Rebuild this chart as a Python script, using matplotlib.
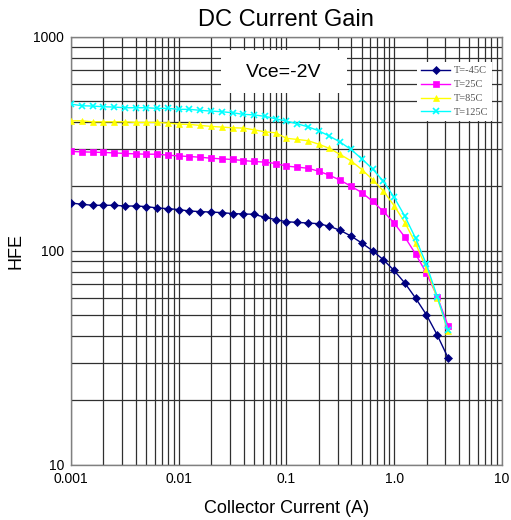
import numpy as np
import matplotlib
matplotlib.use("Agg")
import matplotlib.pyplot as plt
from matplotlib.patches import Rectangle

plt.rcParams['font.family'] = ['Liberation Sans', 'DejaVu Sans']

# collector current, 10 points per decade from 1 mA to ~3.16 A
ic = 10.0 ** (-3 + 0.1 * np.arange(36))

hfe_m45 = [167.5, 165.1, 163.4, 163.4, 163.4, 162.1, 162.1, 161.1, 158.7, 157.6,
           156.0, 153.6, 152.6, 151.9, 151.0, 149.4, 148.8, 148.3, 143.5, 140.0,
           136.9, 135.9, 135.0, 134.0, 130.3, 124.7, 117.3, 108.8, 100.2, 90.9,
           81.0, 70.7, 60.1, 50.3, 40.5, 31.7]
hfe_25 = [291.5, 290.3, 289.4, 288.4, 287.2, 285.3, 284.1, 283.1, 283.1, 280.1,
          277.9, 276.1, 274.0, 271.1, 269.2, 267.4, 264.5, 261.7, 260.0, 256.1,
          249.0, 246.4, 243.3, 235.7, 225.7, 213.9, 200.5, 187.3, 170.6, 153.1,
          134.9, 116.0, 96.6, 78.7, 61.2, 44.8]
hfe_85 = [405.5, 405.5, 401.2, 401.2, 401.2, 401.2, 398.6, 398.6, 398.6, 395.6,
          391.3, 390.1, 385.9, 381.8, 379.0, 376.2, 375.0, 368.1, 360.2, 356.4,
          336.0, 331.8, 327.3, 315.4, 301.1, 282.2, 263.4, 240.1, 215.6, 190.6,
          162.8, 135.6, 108.4, 82.5, 60.4, 42.4]
hfe_125 = [485.6, 476.8, 475.2, 471.7, 470.1, 466.7, 466.7, 466.7, 463.5, 463.5,
           458.7, 458.7, 453.8, 450.3, 447.0, 442.2, 434.6, 432.0, 425.4, 414.5,
           404.2, 392.6, 380.2, 364.1, 343.8, 322.2, 297.8, 269.2, 241.6, 211.6,
           178.0, 145.1, 114.4, 86.4, 61.2, 42.7]

series = [
    ('T=-45C', hfe_m45, '#000080', 'D', 4.0),
    ('T=25C', hfe_25, '#ff00ff', 's', 4.5),
    ('T=85C', hfe_85, '#ffff00', '^', 5.0),
    ('T=125C', hfe_125, '#00ffff', 'x', 5.0),
]

xticks = [0.001, 0.01, 0.1, 1.0, 10]
xticklabels = ['0.001', '0.01', '0.1', '1.0', '10']
yticks = [10, 100, 1000]
yticklabels = ['10', '100', '1000']

fig = plt.figure(figsize=(5.11, 5.20), dpi=100)
ax = fig.add_axes([0.139, 0.106, 0.843, 0.823])

for label, vals, color, marker, ms in series:
    ax.plot(ic, vals, color=color, marker=marker, markersize=ms, lw=1.0,
            markeredgewidth=1.2 if marker == 'x' else 0.5, label=label, zorder=3)

ax.set_xscale('log')
ax.set_yscale('log')
ax.set_xlim(0.001, 10)
ax.set_ylim(10, 1000)
ax.set_xticks(xticks)
ax.set_xticklabels(xticklabels)
ax.set_yticks(yticks)
ax.set_yticklabels(yticklabels)
ax.tick_params(which='both', length=0, labelsize=10, pad=5)
ax.grid(True, which='both', color='#303030', lw=0.9)
for sp in ax.spines.values():
    sp.set_color('#808080')
    sp.set_linewidth(1.0)

# white box behind the Vce label
ax.add_patch(Rectangle((0.348, 0.869), 0.292, 0.101, transform=ax.transAxes,
                       facecolor='white', edgecolor='none', zorder=2.5))
ax.text(0.494, 0.918, 'Vce=-2V', transform=ax.transAxes, ha='center',
        va='center', fontsize=14, zorder=4)

leg = ax.legend(loc='upper left', bbox_to_anchor=(0.803, 0.942),
                prop={'family': 'Liberation Serif', 'size': 7.5},
                labelcolor='#555555', frameon=True, fancybox=False,
                edgecolor='none', facecolor='white', framealpha=1,
                handlelength=2.8, handletextpad=0.3, labelspacing=0.45,
                borderpad=0.4, borderaxespad=0)

ax.set_title('DC Current Gain', fontsize=17, pad=8)
ax.set_xlabel('Collector Current (A)', fontsize=13, labelpad=10)
ax.set_ylabel('HFE', fontsize=13, labelpad=6)

fig.savefig('out.png', dpi=100)
